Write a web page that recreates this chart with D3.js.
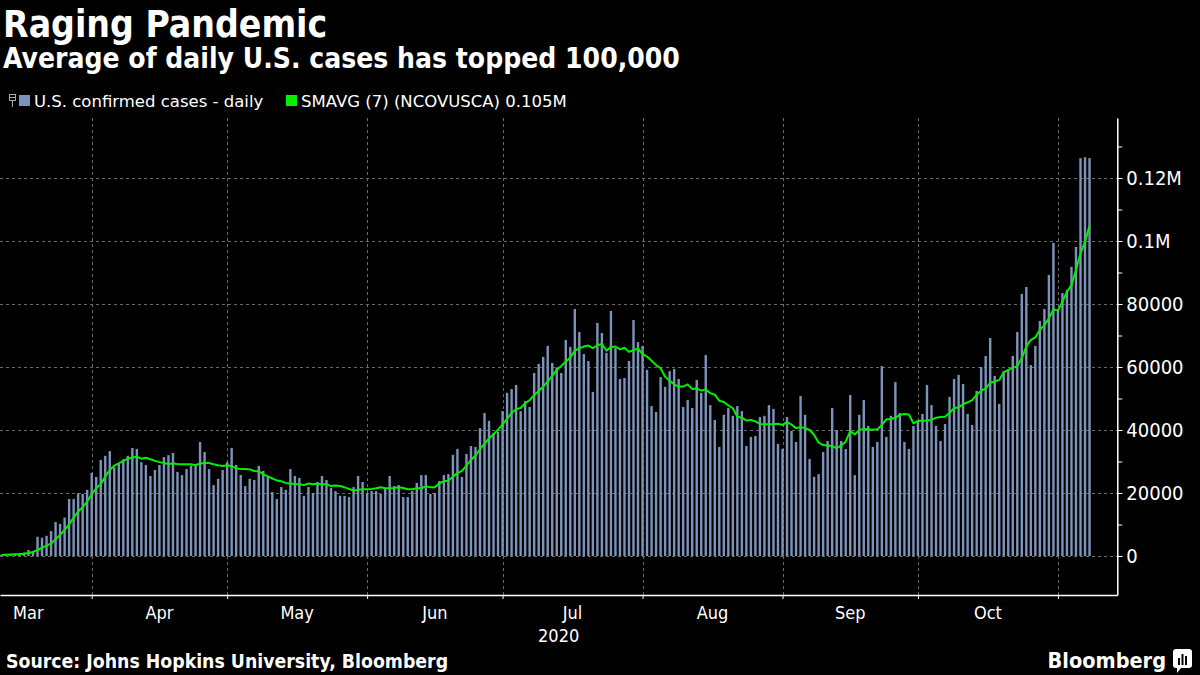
<!DOCTYPE html>
<html>
<head>
<meta charset="utf-8">
<style>
  body { margin: 0; background: #000; }
  svg { display: block; }
  text { font-family: "DejaVu Sans Condensed", "DejaVu Sans", sans-serif; fill: #fff; }
</style>
<script src="https://cdn.jsdelivr.net/npm/d3@7"></script>
</head>
<body>
<svg width="1200" height="675"></svg>
<script>
// daily values, one per day starting firstDay
var firstDay = '2020-03-12'

var cases = [
  350, 450, 550, 650, 800, 1100, 1900, 1600,
  6100, 5800, 6400, 7900, 10800, 10200, 12200, 18100, 18100, 19900, 19700, 21000,
  26400, 25100, 30500, 31800, 33300, 28200, 29400, 30700, 31800, 34300, 34000,
  29800, 28900, 25400, 27300, 28900, 31400, 32000, 32700, 26700, 25700, 27600, 28700, 28700,
  36200, 33000, 27600, 22500, 24500, 27300, 29800, 34300, 28900, 25700, 22200, 24500, 24100,
  28600, 27000, 25100,
  20300, 18100, 21900, 21000, 27600, 25400, 24800, 19100, 21900, 20000, 23500, 25400, 24100,
  21600, 20600, 19100, 19100, 18700, 21900, 25400, 23500, 20000, 20600, 20600, 19700, 21300,
  25400, 22200, 22500, 18700,
  18700, 20600, 23200, 25700, 25700, 19700, 20000, 23800, 25700, 26000, 32100, 34000, 25100,
  32400, 34900, 34600, 40600, 45400, 42900, 39100, 39400, 46000, 51800, 53000, 54300, 46000,
  49200, 47300, 58100, 61000,
  63200, 66700, 61300, 59900, 58100, 68600, 66400, 78400, 71100, 64100, 61900, 52100, 74000,
  70800, 64500, 77800, 66000, 56200, 56500, 61900, 74900, 67900, 66700, 59100, 47600, 45700,
  56800, 53700, 58700, 59400,
  56200, 47300, 49500, 47000, 55900, 51800, 63800, 47900, 43200, 34600, 44800, 47000, 44500,
  47600, 46000, 34900, 37800, 38100, 44100, 44500, 47900, 46700, 35600, 34000, 44100, 39700,
  36200, 50800, 44800,
  30800, 25100, 26000, 33000, 36500, 47000, 40000, 36500, 34000, 51100, 25700, 44800, 49500,
  41300, 34600, 36200, 60300, 37800, 44500, 55200, 45400, 36200, 34000, 41300, 43000, 45100,
  54300, 47900, 41300, 36500,
  41900, 50500, 56200, 57500, 54600, 45100, 41600, 52400, 60000, 63500, 69200, 57200, 48300,
  58700, 59100, 63500, 71100, 83200, 85400, 60600, 66700, 74600, 78400, 89200, 99400, 78100,
  83500, 84500, 91800, 98100, 126300, 126600, 126300
]

var smavg = [
  320, 380, 450, 530, 620, 750, 950, 1300,
  1900, 2650, 3300, 4000, 5300, 6700, 8300, 10000, 12200, 14100, 15500, 17300,
  19600, 21500, 22800, 25200, 27300, 28700, 29400, 30200, 30900, 31300, 31500,
  30900, 31200, 30700, 30200, 29800, 29500, 29200, 29400, 29200, 29100, 29100, 29100, 28800,
  29400, 29500, 29500, 29100, 28800, 28600, 28800, 28500, 27800, 27600, 27600, 27500, 27000,
  26900, 25900, 25300,
  24600, 24000, 23700, 23200, 23000, 22800, 22800, 22500, 23000, 22800, 22900, 22800, 22800,
  22200, 22400, 22200, 21800, 21300, 20700, 21000, 21200, 21200, 21300, 21500, 21800, 21500,
  21500, 21600, 21800, 21600,
  21200, 21200, 21500, 21500, 22100, 21800, 21800, 23100, 23700, 23900, 25200, 26300, 27000,
  28700, 30500, 31900, 33900, 35700, 37300, 38700, 40100, 41800, 43500, 45500, 46600, 47000,
  48500, 49500, 51100, 52400,
  53800, 55400, 57200, 59100, 60300, 61700, 63000, 65200, 65900, 66500, 66800, 66000, 66900,
  67300, 65200, 66300, 66500, 65600, 66100, 64800, 65400, 65800, 64100, 63300, 62000, 60600,
  59600, 56900, 55600, 54500,
  53800, 53800, 54500, 53000, 53200, 52500, 52900, 51700, 51200, 49300, 48900, 47800, 46900,
  44200, 43900, 43000, 43200, 42700, 41900, 41800, 41800, 41800, 42000, 41600, 42500, 41700,
  40600, 40900, 40600,
  40000, 38400, 36000, 35200, 35100, 34900, 34200, 35100, 36300, 39700, 38600, 40000, 40300,
  40200, 40100, 40200, 41600, 43400, 43500, 43900, 44800, 45100, 44900, 42100, 42900, 42900,
  43000, 43200, 43900, 44100,
  44200, 45500, 46900, 47200, 48200, 48800, 49500, 51100, 52500, 53200, 55000, 55400, 55900,
  58300, 59100, 59700, 60300, 62800, 66500, 68600, 69400, 71800, 73300, 75500, 78300, 77900,
  80800, 83900, 86000, 90800, 96100, 99800, 104800
]

var months = ['Mar', 'Apr', 'May', 'Jun', 'Jul', 'Aug', 'Sep', 'Oct']
var gridMonths = ['2020-04-01', '2020-05-01', '2020-06-01', '2020-07-01', '2020-08-01', '2020-09-01', '2020-10-01', '2020-11-01']
var yTicks = [0, 20000, 40000, 60000, 80000, 100000, 120000]
var yMinorTicks = [0, 10000, 20000, 30000, 40000, 50000, 60000, 70000, 80000, 90000, 100000, 110000, 120000, 130000]

var plotLeft = 0, plotRight = 1117.3, plotTop = 118, plotBottom = 595

var parse = d3.utcParse('%Y-%m-%d')
var start = parse(firstDay)
var days = cases.map(function (d, i) { return d3.utcDay.offset(start, i) })

var x = d3.scaleUtc()
  .domain([new Date(Date.UTC(2020, 2, 11, 16, 34)), new Date(Date.UTC(2020, 10, 14, 3, 36))])
  .range([plotLeft, plotRight])
var y = d3.scaleLinear().domain([-12381, 139048]).range([plotBottom, plotTop])

var svg = d3.select('svg')

svg.append('rect').attr('width', 1200).attr('height', 675).attr('fill', '#000')

svg.append('defs').append('clipPath').attr('id', 'plot')
  .append('rect').attr('x', plotLeft).attr('y', plotTop)
  .attr('width', plotRight - plotLeft).attr('height', plotBottom - plotTop)

// grid
var grid = svg.append('g').attr('stroke', '#6a6a6a').attr('stroke-width', 1).attr('stroke-dasharray', '3,3')
grid.selectAll('.hg').data(yTicks).enter().append('line')
  .attr('x1', plotLeft).attr('x2', plotRight)
  .attr('y1', function (d) { return Math.round(y(d)) + 0.5 })
  .attr('y2', function (d) { return Math.round(y(d)) + 0.5 })
grid.selectAll('.vg').data(gridMonths).enter().append('line')
  .attr('y1', plotTop).attr('y2', plotBottom)
  .attr('x1', function (d) { return Math.round(x(parse(d))) + 0.5 })
  .attr('x2', function (d) { return Math.round(x(parse(d))) + 0.5 })

var plot = svg.append('g').attr('clip-path', 'url(#plot)')

plot.selectAll('.bar')
  .data(cases)
  .enter()
  .append('rect')
  .attr('class', 'bar')
  .attr('fill', '#7c93bb')
  .attr('x', function (d, i) { return x(days[i]) - 1.2 })
  .attr('width', 2.4)
  .attr('y', function (d) { return y(d) })
  .attr('height', function (d) { return y(0) - y(d) })

var line = d3.line()
  .x(function (d, i) { return x(days[i]) })
  .y(function (d) { return y(d) })

plot.append('path')
  .datum(smavg)
  .attr('fill', 'none')
  .attr('stroke', '#00f000')
  .attr('stroke-width', 2)
  .attr('stroke-linejoin', 'round')
  .attr('d', line)

// x axis
var xAxis = svg.append('g')
  .attr('transform', 'translate(0,' + plotBottom + ')')
  .call(d3.axisBottom(x)
    .tickValues(gridMonths.map(parse))
    .tickSize(4)
    .tickSizeOuter(0)
    .tickFormat(''))
xAxis.select('.domain').attr('stroke', '#fff').attr('stroke-width', 1.5)
xAxis.selectAll('.tick line').attr('stroke', '#fff')

var monthLabels = svg.append('g')
months.forEach(function (m, i) {
  var s = d3.utcMonth.offset(parse('2020-03-01'), i)
  var e = d3.utcMonth.offset(s, 1)
  var cx = (x(s) + x(e)) / 2
  var t = monthLabels.append('text')
    .attr('y', 619)
    .attr('font-size', 18)
    .attr('text-anchor', 'middle')
    .text(m)
  var w = t.node().getComputedTextLength()
  t.attr('x', Math.max(cx, 13 + w / 2))
})
svg.append('text')
  .attr('x', (plotLeft + plotRight) / 2).attr('y', 642)
  .attr('font-size', 18).attr('text-anchor', 'middle')
  .text('2020')

// y axis
var yMinor = svg.append('g')
  .attr('transform', 'translate(' + plotRight + ',0)')
  .call(d3.axisRight(y).tickValues(yMinorTicks).tickSize(5).tickSizeOuter(0).tickFormat(''))
yMinor.select('.domain').attr('stroke', '#fff').attr('stroke-width', 1.5)
yMinor.selectAll('.tick line').attr('stroke', '#fff')

var yAxis = svg.append('g')
  .attr('transform', 'translate(' + plotRight + ',0)')
  .call(d3.axisRight(y).tickValues(yTicks).tickSize(5).tickSizeOuter(0)
    .tickFormat(function (d) { return d >= 100000 ? (d / 1e6) + 'M' : d }))
yAxis.select('.domain').remove()
yAxis.selectAll('.tick line').attr('stroke', '#fff')
yAxis.selectAll('.tick text')
  .attr('x', 9)
  .attr('fill', '#fff')
  .style('font-family', '"DejaVu Sans Condensed", "DejaVu Sans", sans-serif')
  .style('font-size', '20px')

// titles
svg.append('text').attr('x', 3).attr('y', 37)
  .attr('font-size', 37).attr('font-weight', 'bold').text('Raging Pandemic')
svg.append('text').attr('x', 3).attr('y', 68)
  .attr('font-size', 28).attr('font-weight', 'bold').text('Average of daily U.S. cases has topped 100,000')

// legend
var legend = svg.append('g')
legend.append('rect').attr('x', 9.5).attr('y', 94.5).attr('width', 6).attr('height', 6)
  .attr('fill', 'none').attr('stroke', '#aaa')
legend.append('line').attr('x1', 10).attr('x2', 15).attr('y1', 97.5).attr('y2', 97.5).attr('stroke', '#aaa')
legend.append('line').attr('x1', 12.5).attr('x2', 12.5).attr('y1', 100.5).attr('y2', 107).attr('stroke', '#aaa')
legend.append('rect').attr('x', 19).attr('y', 95).attr('width', 11).attr('height', 11).attr('fill', '#7c93bb')
legend.append('text').attr('x', 34).attr('y', 106.5).attr('font-size', 16.5)
  .style('font-family', '"DejaVu Sans", sans-serif').text('U.S. confirmed cases - daily')
legend.append('rect').attr('x', 286).attr('y', 95).attr('width', 11).attr('height', 11).attr('fill', '#00f000')
legend.append('text').attr('x', 301).attr('y', 106.5).attr('font-size', 16.5)
  .style('font-family', '"DejaVu Sans", sans-serif').text('SMAVG (7) (NCOVUSCA) 0.105M')

// footer
svg.append('text').attr('x', 6).attr('y', 668)
  .attr('font-size', 19.3).attr('font-weight', 'bold').text('Source: Johns Hopkins University, Bloomberg')
svg.append('text').attr('x', 1166).attr('y', 668).attr('text-anchor', 'end')
  .attr('font-size', 21.5).attr('font-weight', 'bold').text('Bloomberg')
var logo = svg.append('g').attr('transform', 'translate(1173,649)')
logo.append('rect').attr('width', 19).attr('height', 19).attr('rx', 3).attr('fill', '#fff')
logo.append('path').attr('d', 'M4,19 L4,24 L8,19 Z').attr('fill', '#fff')
logo.append('rect').attr('x', 5).attr('y', 9).attr('width', 2).attr('height', 7).attr('fill', '#000')
logo.append('rect').attr('x', 8.5).attr('y', 5).attr('width', 2).attr('height', 11).attr('fill', '#000')
logo.append('rect').attr('x', 12).attr('y', 7).attr('width', 2).attr('height', 9).attr('fill', '#000')
</script>
</body>
</html>
